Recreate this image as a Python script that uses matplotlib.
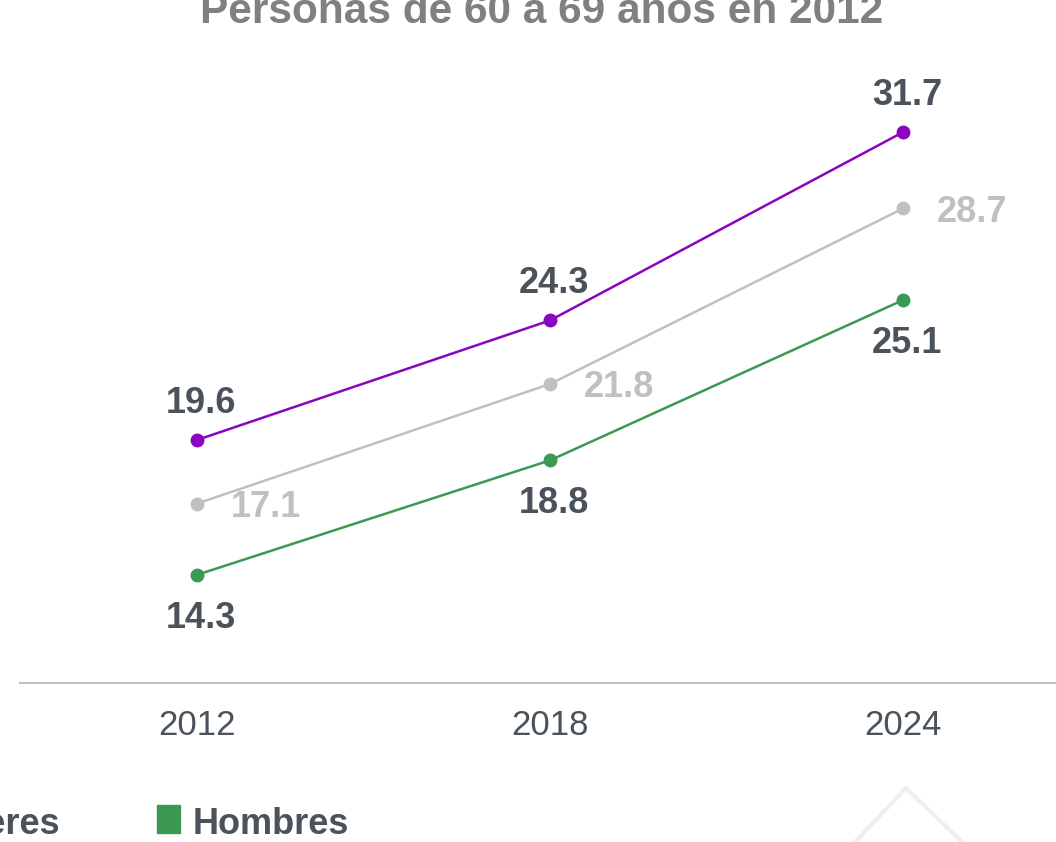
import matplotlib
matplotlib.use('Agg')
import matplotlib.pyplot as plt
from matplotlib.patches import Rectangle
from matplotlib.lines import Line2D

plt.rcParams['font.family'] = ['Liberation Sans', 'DejaVu Sans']

years = ['2012', '2018', '2024']
mujeres = [19.6, 24.3, 31.7]
total = [17.1, 21.8, 28.7]
hombres = [14.3, 18.8, 25.1]

c_muj = '#8a05be'
c_tot = '#c0c0c0'
c_hom = '#3b9954'
c_txt = '#4a525c'

W, H = 1056, 842
fig = plt.figure(figsize=(W / 100, H / 100), dpi=100)

# axes placed in pixel terms: bottom spine at y=683, left edge at x=20
ax = fig.add_axes([20 / W, (H - 683) / H, 1 - 20 / W, (683 - 40) / H])
ax.set_xlim(-0.501, 2.433)
ax.set_ylim(10.05, 35.32)

x = range(len(years))
ax.plot(x, mujeres, color=c_muj, lw=1.8, marker='o', ms=9, clip_on=False)
ax.plot(x, total, color=c_tot, lw=1.8, marker='o', ms=9, clip_on=False)
ax.plot(x, hombres, color=c_hom, lw=1.8, marker='o', ms=9, clip_on=False)

lab = dict(fontsize=26, fontweight='bold', textcoords='offset points', va='baseline')
for i, v in enumerate(mujeres):
    ax.annotate(f'{v:.1f}', (i, v), xytext=(3, 19.5), ha='center', color=c_txt, **lab)
for i, v in enumerate(hombres):
    ax.annotate(f'{v:.1f}', (i, v), xytext=(3, -38), ha='center', color=c_txt, **lab)
for i, v in enumerate(total):
    ax.annotate(f'{v:.1f}', (i, v), xytext=(24.5, -9.5), ha='left', color=c_tot, **lab)

for s in ['top', 'right', 'left']:
    ax.spines[s].set_visible(False)
ax.spines['bottom'].set_color('#c0c0c0')
ax.spines['bottom'].set_linewidth(1.5)
ax.set_yticks([])
ax.set_xticks(list(x))
ax.set_xticklabels(years)
ax.tick_params(axis='x', length=0, pad=19, labelsize=25, labelcolor=c_txt)

fig.text(541.5 / W, (H - 23) / H, 'Personas de 60 a 69 años en 2012', ha='center',
         va='baseline', fontsize=30.5, fontweight='bold', color='#808080')

# legend row (partly cut off on the left)
fig.patches.append(Rectangle((-112 / W, (H - 833) / H), 23 / W, 28 / H,
                             transform=fig.transFigure, color=c_muj))
fig.text(-76 / W, (H - 834) / H, 'Mujeres', fontsize=26, fontweight='bold',
         color=c_txt, va='baseline')
fig.patches.append(Rectangle((157 / W, (H - 833) / H), 23 / W, 28 / H,
                             transform=fig.transFigure, color=c_hom))
fig.text(193 / W, (H - 834) / H, 'Hombres', fontsize=26, fontweight='bold',
         color=c_txt, va='baseline')

# faint chevron in the bottom corner
fig.lines.append(Line2D([855 / W, 906 / W, 962 / W], [0, (H - 788) / H, 0],
                        transform=fig.transFigure, color='#efefef', lw=3))

fig.savefig('out.png', dpi=100)
